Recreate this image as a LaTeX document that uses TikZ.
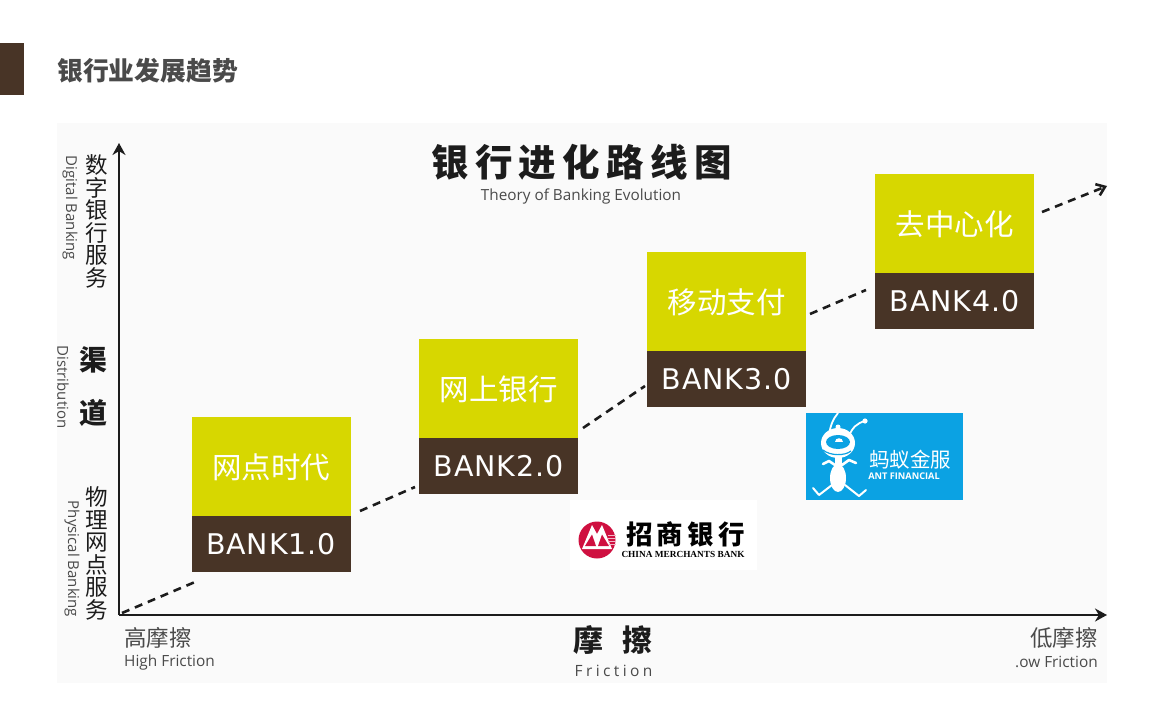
\documentclass[tikz,border=0pt]{standalone}
\usepackage{fontspec}
\usetikzlibrary{arrows.meta}
\setmainfont{Open Sans}
\newfontfamily\cjk{Noto Sans CJK SC}
\newfontfamily\cjkt[LetterSpace=17]{Noto Sans CJK SC}
\newfontfamily\cjkm[LetterSpace=12]{Noto Sans CJK SC}
\newfontfamily\cjkl[LetterSpace=16]{Noto Sans CJK SC}
\newfontfamily\bankf[LetterSpace=3]{DejaVu Sans}
\newfontfamily\lib{Liberation Serif}
\definecolor{lime}{HTML}{D7D700}
\definecolor{umber}{HTML}{483426}
\definecolor{panel}{HTML}{FAFAFA}
\definecolor{ink}{HTML}{1C1C1C}
\definecolor{soft}{HTML}{4A4A4A}
\definecolor{antblue}{HTML}{0BA2E3}
\definecolor{cmbred}{HTML}{CF1040}
\newcommand{\fs}[1]{\fontsize{#1}{#1}\selectfont}
\tikzset{
  era/.style={fill=lime,minimum width=159pt,minimum height=99pt,inner sep=0pt,text=white,font=\cjk\fs{29.5}},
  ver/.style={fill=umber,minimum width=159pt,minimum height=56pt,inner sep=0pt,text=white,font=\bankf\fs{28.5}},
  axisline/.style={line width=2.7pt,color=ink,-{Stealth[length=12pt,width=13pt]}},
  dashline/.style={line width=2.6pt,color=ink,dash pattern=on 8pt off 6pt},
  vcjk/.style={align=center,inner sep=0pt,text=ink,font=\cjk\fs{22.5},text depth=0pt},
  veng/.style={rotate=-90,inner sep=0pt,text=soft,font=\fs{15}},
  lab/.style={inner sep=0pt,text=soft,font=\cjk\fs{22.5}},
  sublab/.style={inner sep=0pt,text=soft,font=\fs{15.4}}
}
\begin{document}
\begin{tikzpicture}[x=1pt,y=-1pt]
\useasboundingbox (0,0) rectangle (1150,720);
\fill[white] (0,0) rectangle (1150,720);
\fill[umber] (0,43) rectangle (24,95);
\node[anchor=west,inner sep=0pt,text=soft,font=\cjk\bfseries\fs{25.8}] (head) at (57,71) {银行业发展趋势};
\fill[panel] (57,123) rectangle (1107,683);

\node[inner sep=0pt,text=ink,font=\cjkt\bfseries\fs{37.5}] (title) at (581.5,162) {银行进化路线图};
\node[inner sep=0pt,text=soft,font=\fs{15.3}] (subtitle) at (581,196) {Theory of Banking Evolution};

% axes
\coordinate (o) at (119,615);
\coordinate (ytop) at (119,143);
\coordinate (xend) at (1107,615);
\draw[axisline] (o) -- (ytop);
\draw[axisline] (o) -- (xend);

% boxes
\node[era,text depth=0pt,yshift=-1.5pt] (e1) at (271,465) {网点时代};
\node[ver,yshift=-1pt] (v1) at (271,543) {BANK1.0};
\node[era,text depth=0pt,yshift=-1.5pt] (e2) at (498.5,387) {网上银行};
\node[ver,yshift=-1pt] (v2) at (498.5,465) {BANK2.0};
\node[era,text depth=0pt,yshift=-1.5pt] (e3) at (726.5,300) {移动支付};
\node[ver,yshift=-1pt] (v3) at (726.5,378) {BANK3.0};
\node[era,text depth=0pt,yshift=-1.5pt] (e4) at (954.5,222) {去中心化};
\node[ver,yshift=-1pt] (v4) at (954.5,300) {BANK4.0};

% dashed trend
\coordinate (d0) at (122,613);
\coordinate (d1) at (195,582);
\coordinate (d2) at (360,511);
\coordinate (d3) at (415,487);
\coordinate (d4) at (583,428);
\coordinate (d5) at (645,386);
\coordinate (d6) at (810,314);
\coordinate (d7) at (866,290);
\coordinate (d8) at (1042,212);
\coordinate (d9) at (1107,186);
\draw[dashline] (d0) -- (d1);
\draw[dashline] (d2) -- (d3);
\draw[dashline] (d4) -- (d5);
\draw[dashline] (d6) -- (d7);
\draw[dashline,-{Straight Barb[length=8pt,width=12pt]}] (d8) -- (d9);

% y labels
\node[vcjk] (yd) at (97,220.5) {数\\[0.1pt]字\\[0.1pt]银\\[0.1pt]行\\[0.1pt]服\\[0.1pt]务};
\node[veng] (ydE) at (70,208) {Digital Banking};
\node[inner sep=0pt,text=ink,font=\cjk\bfseries\fs{28}] (q1) at (93,360) {渠};
\node[inner sep=0pt,text=ink,font=\cjk\bfseries\fs{28}] (q2) at (93,413) {道};
\node[veng] (yqE) at (63,387) {Distribution};
\node[vcjk] (yp) at (97,552.5) {物\\[0.1pt]理\\[0.1pt]网\\[0.1pt]点\\[0.1pt]服\\[0.1pt]务};
\node[veng] (ypE) at (72,559) {Physical Banking};

% x labels
\node[lab,anchor=west] (xh) at (124,638) {高摩擦};
\node[sublab,anchor=west] (xhE) at (124,662) {High Friction};
\node[inner sep=0pt,text=ink,font=\cjkm\bfseries\fs{30}] (xm) at (613,640) {摩\hspace{20pt}擦};
\node[inner sep=0pt,text=soft,font=\addfontfeature{LetterSpace=22}\fs{15.5}] (xmE) at (613.5,670.5) {Friction};
\node[lab,anchor=east] (xl) at (1098,638) {低摩擦};
\node[sublab,anchor=east] (xlE) at (1098,662) {.ow Friction};

% China Merchants Bank logo
\fill[white] (570,500) rectangle (757,570);
\fill[cmbred] (597,540) circle (18.5);
\fill[white] (582,549) -- (592,525) -- (597,534) -- (602,525) -- (612,549) -- cycle;
\fill[cmbred] (585,546) -- (592,534.5) -- (596,546) -- cycle;
\fill[cmbred] (598,546) -- (602,534.5) -- (609,546) -- cycle;
\foreach \yy in {535,538,541,544}{\fill[white!70!cmbred] (608,\yy) rectangle (616,\yy+1.4);}
\node[inner sep=0pt,text=black,font=\cjkl\bfseries\fs{26.5}] (cmb) at (685.5,534) {招商银行};
\node[inner sep=0pt,text=black,font=\lib\bfseries\fs{9.3}] (cmbE) at (683,554) {CHINA MERCHANTS BANK};

% Ant Financial logo
\fill[antblue] (806,413) rectangle (963,500);
\draw[white,line width=1.8pt,line cap=round] (829,436) .. controls (830,426) and (833,419) .. (838,413);
\draw[white,line width=1.8pt,line cap=round] (849,436) .. controls (852,428) and (857,423) .. (865,421);
\fill[white] (865,421) circle (2.6);
\fill[white] (838,443) ellipse (17 and 15);
\fill[white] (838,427) circle (2.5);
\fill[antblue] (838,442) ellipse (12 and 7);
\fill[white] (835,441.5) .. controls (835,437) and (843,437) .. (843,441.5) -- cycle;
\draw[antblue,line width=1.2pt] (823,450) .. controls (830,456) and (845,456) .. (851,451);
\fill[white] (835,456) rectangle (842,468);
\draw[white,line width=2.6pt,line cap=round,line join=round] (823,464) -- (829,461) -- (835,465);
\draw[white,line width=2.6pt,line cap=round,line join=round] (856,463) -- (849,460) -- (842,465);
\fill[white] (838,478) ellipse (8 and 14);
\draw[white,line width=2pt,line cap=round,line join=round] (832,485) -- (819,495) -- (813,488);
\draw[white,line width=2pt,line cap=round,line join=round] (845,485) -- (859,496) -- (866,490);
\node[inner sep=0pt,text=white,font=\cjk\fs{20.5}] (ant) at (910,460) {蚂蚁金服};
\node[inner sep=0pt,text=white,font=\bfseries\fs{9.2}] (antE) at (904,476) {ANT FINANCIAL};
\end{tikzpicture}
\end{document}
